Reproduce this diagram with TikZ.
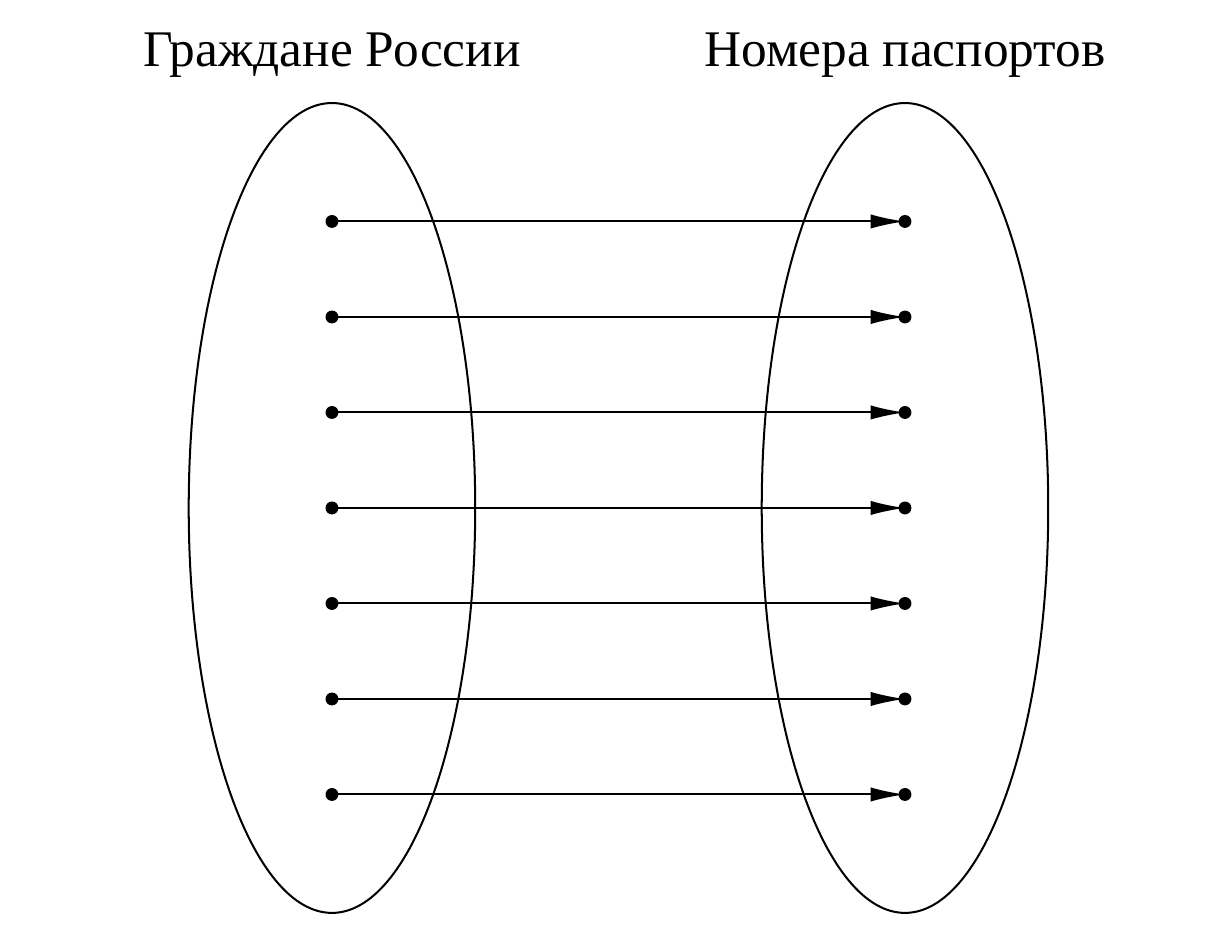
\documentclass[tikz,border=0pt]{standalone}
\usepackage{fontspec}
\setmainfont{Liberation Serif}
\usetikzlibrary{arrows.meta,positioning}

\begin{document}
\begin{tikzpicture}[>={Latex[length=3.6mm,width=1.5mm]},line width=0.6pt,
  pt/.style={circle,fill,inner sep=0pt,minimum size=1.35mm},
  setlabel/.style={font=\fontsize{15.3}{18}\selectfont}]
  \useasboundingbox (-3.476,-4.482) rectangle (9.152,5.319);
  \draw (0,0) ellipse (1.5 and 4.24);
  \draw (6,0) ellipse (1.5 and 4.24);
  \node[setlabel] (citizens) at (0,4.743) {Граждане России};
  \node[setlabel] (passports) at (6,4.743) {Номера паспортов};
  \foreach \i in {1,...,7} {
    \node[pt] (c\i) at (0,{4-\i}) {};
    \node[pt] (p\i) at (6,{4-\i}) {};
    \draw[->] (c\i.center) -- (p\i.center);
  }
\end{tikzpicture}
\end{document}
